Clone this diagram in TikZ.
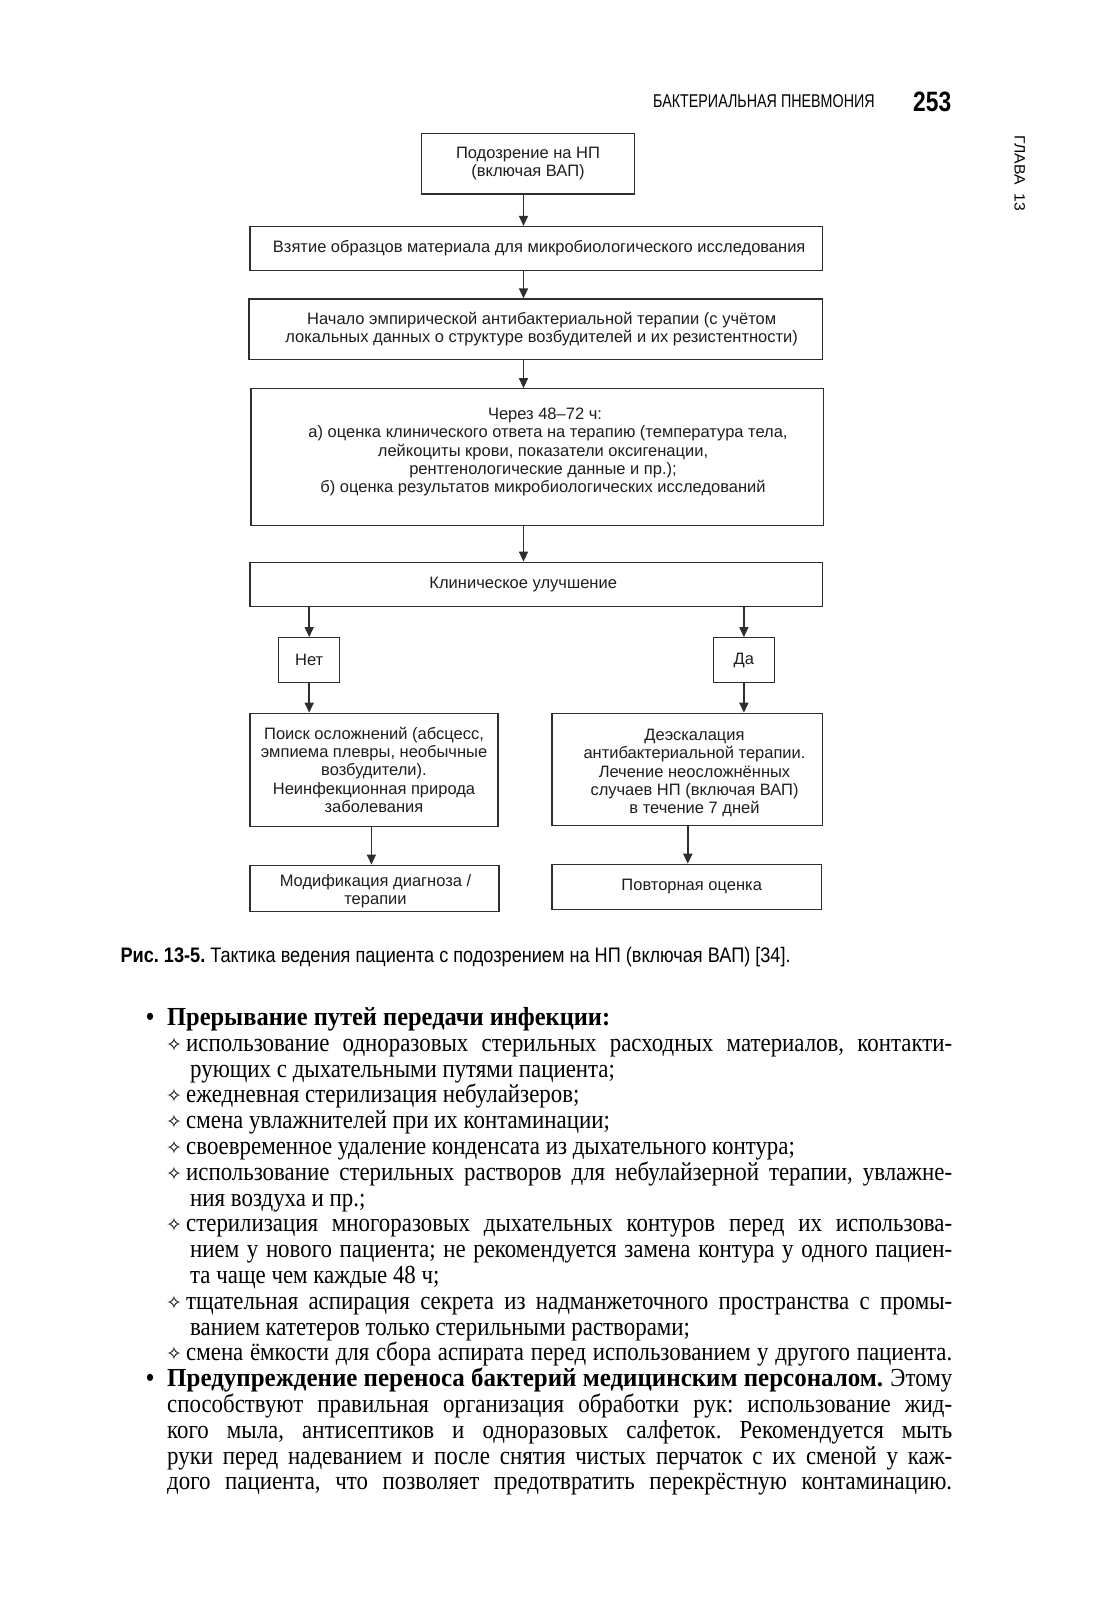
\documentclass[tikz,border=0pt]{standalone}
\usepackage{fontspec}
\usepackage{graphicx}
\usetikzlibrary{arrows.meta}
\newfontfamily\bodyfont[FakeStretch=0.88]{Liberation Serif}
\newfontfamily\hdrfont[FakeStretch=0.8]{Liberation Sans}
\newfontfamily\capfont[FakeStretch=0.9]{Liberation Sans}
\newfontfamily\diafont{Liberation Sans}
\newfontfamily\symfont{DejaVu Sans}
\frenchspacing
\newsavebox\jlbox
\newcommand\jl[2]{\sbox\jlbox{#2}\ifdim\wd\jlbox>#1\relax\resizebox{#1}{\height}{\usebox\jlbox}\else\makebox[#1][s]{#2}\fi}
\newcommand\fitw[2]{\resizebox{#1}{\height}{#2}}
\definecolor{ln}{HTML}{2E2E2E}
\definecolor{tx}{HTML}{1E1E1E}
\begin{document}
\begin{tikzpicture}[x=1pt,y=-1pt,
  box/.style={draw=ln, line width=1.3pt, inner sep=0pt, align=center, text=tx,
    font=\diafont\fontsize{16.5}{18.4}\selectfont},
  txt/.style={inner sep=0pt, align=center, text=tx, font=\diafont\fontsize{16.5}{18.4}\selectfont},
  arr/.style={draw=ln, line width=1.5pt, -{Triangle[length=10pt,width=9pt]}},
  bt/.style={anchor=base west, inner sep=0pt, font=\bodyfont\fontsize{26}{25.8}\selectfont},
  bul/.style={anchor=base west, inner sep=0pt, font=\bodyfont\bfseries\fontsize{26}{25.8}\selectfont},
  dm/.style={anchor=base west, inner sep=0pt, font=\symfont\fontsize{19}{19}\selectfont},
  plain/.style={anchor=base west, inner sep=0pt}]
\fill[white] (0,0) rectangle (1100,1600);
\useasboundingbox (0,0) rectangle (1100,1600);

% running head
\node[plain] (hd) at (653,107.7) {\fitw{221.5pt}{\hdrfont\fontsize{18.5}{20}\selectfont БАКТЕРИАЛЬНАЯ ПНЕВМОНИЯ}};
\node[plain] (pg) at (913,112) {\fitw{38pt}{\hdrfont\bfseries\fontsize{28}{30}\selectfont 253}};
\node[plain, rotate=-90] (gl) at (1014.5,135.7) {\fitw{75pt}{\diafont\fontsize{15}{16}\selectfont ГЛАВА\ \ 13}};

% flowchart
\coordinate (A) at (523.5,0);
\coordinate (AL) at (371.4,0);
\coordinate (AR) at (687.8,0);
\node[box, minimum width=213.3pt, minimum height=60.2pt] (b1) at (528,163.8) {Подозрение на НП\\(включая ВАП)};
\node[box, minimum width=572.4pt, minimum height=43.9pt] (b2) at (536.2,248.5) {\hspace*{6pt}Взятие образцов материала для микробиологического исследования};
\node[box, minimum width=573.4pt, minimum height=60.2pt] (b3) at (535.7,329.1) {\hspace*{12pt}Начало эмпирической антибактериальной терапии (с учётом\\\hspace*{12pt}локальных данных о структуре возбудителей и их резистентности)};
\node[box, minimum width=572.5pt, minimum height=136.7pt] (b4) at (537.2,457.1) {};
\node[txt] (b4t) at (543,452) {\hspace*{4pt}Через 48–72 ч:\\\hspace*{10pt}а) оценка клинического ответа на терапию (температура тела,\\лейкоциты крови, показатели оксигенации,\\рентгенологические данные и пр.);\\б) оценка результатов микробиологических исследований};
\node[box, minimum width=572.4pt, minimum height=43.9pt] (b5) at (536.2,584.2) {Клиническое улучшение\hspace*{26pt}};
\node[box, minimum width=61.2pt, minimum height=44.9pt] (net) at (309.2,660.2) {Нет};
\node[box, minimum width=61.2pt, minimum height=44.9pt] (da) at (743.9,660.2) {Да};
\node[box, minimum width=248pt, minimum height=113.2pt] (lb) at (374,769.9) {Поиск осложнений (абсцесс,\\эмпиема плевры, необычные\\возбудители).\\Неинфекционная природа\\заболевания};
\node[box, minimum width=270.4pt, minimum height=112.2pt] (rb) at (687.2,769.4) {};
\node[txt] (rbt) at (694.5,773) {Деэскалация\\антибактериальной терапии.\\Лечение неосложнённых\\случаев НП (включая ВАП)\\в течение 7 дней};
\node[box, minimum width=249pt, minimum height=45.9pt] (bl) at (374.5,888.2) {};
\node[txt] (blt) at (375.5,891) {Модификация диагноза /\\терапии};
\node[box, minimum width=269.4pt, minimum height=44.9pt] (br) at (686.7,886.8) {\hspace*{10pt}Повторная оценка};

\draw[arr] (b1.south -| A) -- (b2.north -| A);
\draw[arr] (b2.south -| A) -- (b3.north -| A);
\draw[arr] (b3.south -| A) -- (b4.north -| A);
\draw[arr] (b4.south -| A) -- (b5.north -| A);
\draw[arr] (b5.south -| net) -- (net.north);
\draw[arr] (b5.south -| da) -- (da.north);
\draw[arr] (net.south) -- (lb.north -| net);
\draw[arr] (da.south) -- (rb.north -| da);
\draw[arr] (lb.south -| AL) -- (bl.north -| AL);
\draw[arr] (rb.south -| AR) -- (br.north -| AR);

% caption
\node[plain] (cap) at (120.4,962) {\jl{670pt}{\capfont\fontsize{21}{24}\selectfont\textbf{Рис. 13-5.} Тактика ведения пациента с подозрением на НП (включая ВАП) [34].}};

% body text
\node[bul] (u0) at (146,1025.4) {•};
\node[bt] (l0) at (167,1025.4) {\fitw{443pt}{\textbf{Прерывание путей передачи инфекции:}}};
\node[dm] (d1) at (166,1051.2) {✧};
\node[bt] (l1) at (186,1051.2) {\jl{766pt}{использование одноразовых стерильных расходных материалов, контакти-}};
\node[bt] (l2) at (190,1077.0) {рующих с дыхательными путями пациента;};
\node[dm] (d3) at (166,1102.8) {✧};
\node[bt] (l3) at (186,1102.8) {ежедневная стерилизация небулайзеров;};
\node[dm] (d4) at (166,1128.6) {✧};
\node[bt] (l4) at (186,1128.6) {смена увлажнителей при их контаминации;};
\node[dm] (d5) at (166,1154.4) {✧};
\node[bt] (l5) at (186,1154.4) {своевременное удаление конденсата из дыхательного контура;};
\node[dm] (d6) at (166,1180.2) {✧};
\node[bt] (l6) at (186,1180.2) {\jl{766pt}{использование стерильных растворов для небулайзерной терапии, увлажне-}};
\node[bt] (l7) at (190,1206.0) {ния воздуха и пр.;};
\node[dm] (d8) at (166,1231.8) {✧};
\node[bt] (l8) at (186,1231.8) {\jl{766pt}{стерилизация многоразовых дыхательных контуров перед их использова-}};
\node[bt] (l9) at (190,1257.6) {\jl{762pt}{нием у нового пациента; не рекомендуется замена контура у одного пациен-}};
\node[bt] (l10) at (190,1283.4) {та чаще чем каждые 48 ч;};
\node[dm] (d11) at (166,1309.2) {✧};
\node[bt] (l11) at (186,1309.2) {\jl{766pt}{тщательная аспирация секрета из надманжеточного пространства с промы-}};
\node[bt] (l12) at (190,1335.0) {ванием катетеров только стерильными растворами;};
\node[dm] (d13) at (166,1360.8) {✧};
\node[bt] (l13) at (186,1360.8) {\jl{766pt}{смена ёмкости для сбора аспирата перед использованием у другого пациента.}};
\node[bul] (u14) at (146,1386.6) {•};
\node[bt] (l14) at (167,1386.6) {\makebox[785pt]{\fitw{716pt}{\textbf{Предупреждение переноса бактерий медицинским персоналом.}}\hfill Этому}};
\node[bt] (l15) at (167,1412.4) {\jl{785pt}{способствуют правильная организация обработки рук: использование жид-}};
\node[bt] (l16) at (167,1438.2) {\jl{785pt}{кого мыла, антисептиков и одноразовых салфеток. Рекомендуется мыть}};
\node[bt] (l17) at (167,1464.0) {\jl{785pt}{руки перед надеванием и после снятия чистых перчаток с их сменой у каж-}};
\node[bt] (l18) at (167,1489.8) {\jl{785pt}{дого пациента, что позволяет предотвратить перекрёстную контаминацию.}};
\end{tikzpicture}
\end{document}
